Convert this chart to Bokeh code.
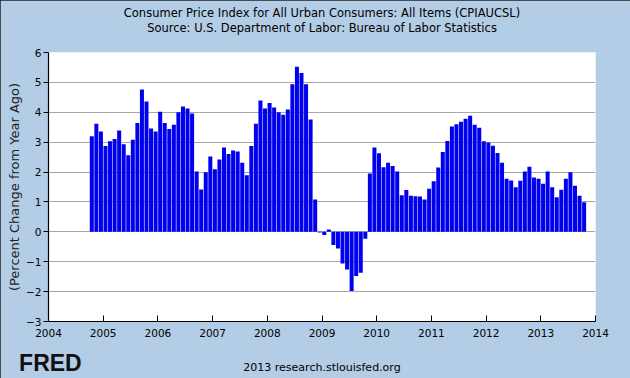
from bokeh.plotting import figure
from bokeh.models import Range1d, FixedTicker, ColumnDataSource, LinearAxis
from bokeh.embed import file_html
from bokeh.resources import INLINE

# ---- data (percent change from year ago, monthly, Oct 2004 - Oct 2013) ----
start_year = 2004
start_month = 10
cpi_yoy = [
    3.20, 3.62, 3.36,                                                  # 2004 Oct-Dec
    2.87, 3.03, 3.11, 3.39, 2.93, 2.56, 3.08, 3.64, 4.76, 4.36, 3.46, 3.36,  # 2005
    4.02, 3.64, 3.44, 3.58, 4.00, 4.19, 4.13, 3.96, 2.02, 1.42, 1.99, 2.52,  # 2006
    2.09, 2.42, 2.82, 2.60, 2.72, 2.69, 2.31, 1.89, 2.87, 3.62, 4.39, 4.13,  # 2007
    4.31, 4.16, 4.00, 3.92, 4.09, 4.94, 5.52, 5.31, 4.94, 3.76, 1.08, -0.02, # 2008
    -0.11, 0.08, -0.44, -0.56, -1.06, -1.26, -1.98, -1.48, -1.37, -0.23, 1.95, 2.82,  # 2009
    2.63, 2.16, 2.31, 2.20, 2.02, 1.22, 1.40, 1.21, 1.19, 1.18, 1.08, 1.44,  # 2010
    1.69, 2.15, 2.67, 3.04, 3.52, 3.60, 3.68, 3.78, 3.88, 3.58, 3.48, 3.03,  # 2011
    2.99, 2.88, 2.64, 2.31, 1.78, 1.72, 1.49, 1.71, 2.02, 2.18, 1.82, 1.78,  # 2012
    1.61, 2.02, 1.49, 1.16, 1.41, 1.78, 1.99, 1.54, 1.21, 0.99,              # 2013 Jan-Oct
]
x_ticks = list(range(2004, 2015))
y_ticks = list(range(-3, 7))
title_line1 = "Consumer Price Index for All Urban Consumers: All Items (CPIAUCSL)"
title_line2 = "Source: U.S. Department of Labor: Bureau of Labor Statistics"
y_label = "(Percent Change from Year Ago)"
footer = "2013 research.stlouisfed.org"
logo_text = "FRED"

dates = [start_year + (start_month - 1 + i + 0.5) / 12.0 for i in range(len(cpi_yoy))]
src = ColumnDataSource(dict(x=dates, top=cpi_yoy))

BG = "#b3cde6"
FONT = "DejaVu Sans"

p = figure(width=630, height=378, output_backend="svg", toolbar_location=None,
           x_range=Range1d(x_ticks[0], x_ticks[-1]), y_range=Range1d(y_ticks[0], y_ticks[-1]),
           min_border_left=48, min_border_right=35, min_border_top=52, min_border_bottom=56,
           background_fill_color="white", border_fill_color=BG, outline_line_color=None)
p.title.visible = False
p.extra_x_ranges = {"txt": Range1d(0, 1)}

p.vbar(x="x", top="top", bottom=0, width=0.88 / 12, source=src,
       fill_color="#0000ee", line_color=None)

# grid
p.xgrid.visible = False
p.ygrid.ticker = FixedTicker(ticks=y_ticks)
p.ygrid.grid_line_color = "#a8a8a8"
p.ygrid.grid_line_width = 1.2

# axes
for ax in (p.xaxis[0], p.yaxis[0]):
    ax.axis_line_color = "black"
    ax.axis_line_width = 1.2
    ax.major_tick_line_color = "black"
    ax.minor_tick_line_color = None
    ax.major_label_text_font = FONT
    ax.major_label_text_font_size = "10.5px"
    ax.major_label_text_color = "black"

p.xaxis.ticker = FixedTicker(ticks=x_ticks)
p.xaxis.major_tick_in = 6
p.xaxis.major_tick_out = 0
p.xaxis.major_label_standoff = 7
p.xaxis.axis_label = footer
p.xaxis.axis_label_text_font = FONT
p.xaxis.axis_label_text_font_size = "11px"
p.xaxis.axis_label_text_font_style = "normal"
p.xaxis.axis_label_text_color = "black"
p.xaxis.axis_label_standoff = 21

p.yaxis.ticker = FixedTicker(ticks=y_ticks)
p.yaxis.major_tick_in = 0
p.yaxis.major_tick_out = 5
p.yaxis.major_label_standoff = 2
p.yaxis.axis_label = y_label
p.yaxis.axis_label_text_font = FONT
p.yaxis.axis_label_text_font_size = "13px"
p.yaxis.axis_label_text_font_style = "normal"
p.yaxis.axis_label_text_color = "#222222"
p.yaxis.axis_label_standoff = 1


def text_axis(label, standoff, font, size, style, color):
    return LinearAxis(x_range_name="txt", ticker=FixedTicker(ticks=[]),
                      axis_line_color=None, major_tick_line_color=None,
                      minor_tick_line_color=None, major_label_text_font_size="0px",
                      major_tick_in=0, major_tick_out=0, minor_tick_in=0, minor_tick_out=0,
                      axis_label=label, axis_label_standoff=standoff,
                      axis_label_text_font=font, axis_label_text_font_size=size,
                      axis_label_text_font_style=style, axis_label_text_color=color)


# two title lines above the frame (nearest first)
p.add_layout(text_axis(title_line2, 18, FONT, "11.5px", "normal", "black"), "above")
line1_axis = text_axis(title_line1, 1, FONT, "11.5px", "normal", "black")
try:
    line1_axis.axis_label_standoff = -2
except Exception:
    pass
p.add_layout(line1_axis, "above")

# FRED logo text at bottom left (trailing no-break spaces shift the centred label left)
logo = text_axis(logo_text + "\u00a0" * 85, 0, "Liberation Sans", "23px", "bold", "#111111")
try:
    logo.axis_label_standoff = -27
except Exception:
    pass
p.add_layout(logo, "below")

p.styles = {"outline": "1px solid #222", "outline-offset": "-1px"}

open("out.html", "w").write(file_html(p, INLINE))
